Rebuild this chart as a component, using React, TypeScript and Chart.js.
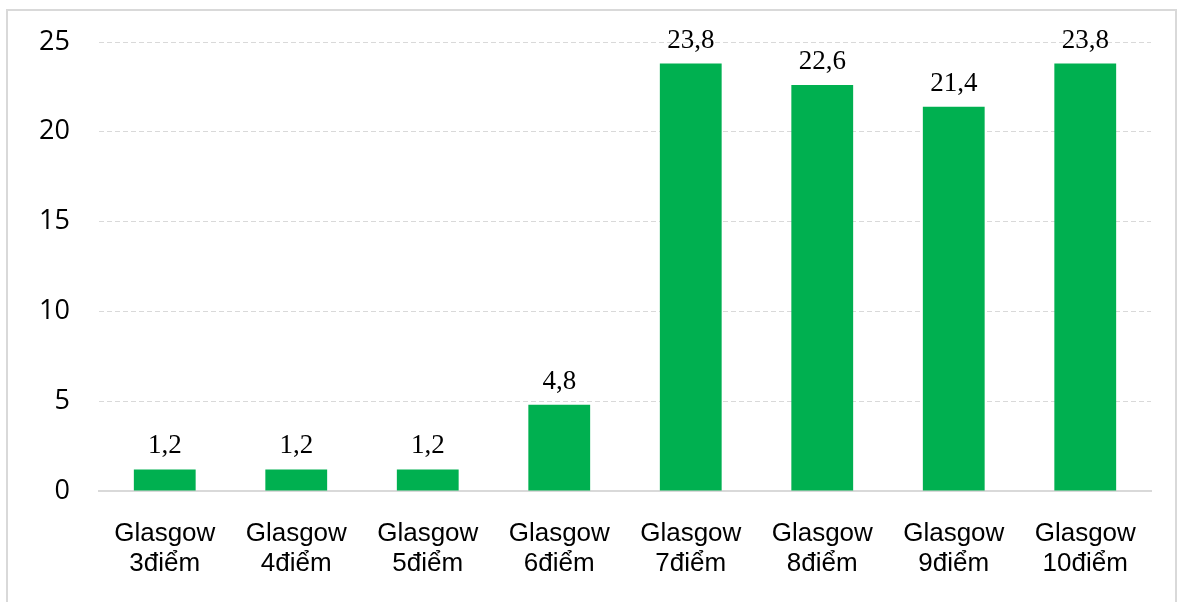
import React, { useEffect, useRef } from "react";
import { Chart, registerables } from "chart.js";

Chart.register(...registerables);

const categoryTop: string[] = ["Glasgow", "Glasgow", "Glasgow", "Glasgow", "Glasgow", "Glasgow", "Glasgow", "Glasgow"];
const categoryBottom: string[] = ["3điểm", "4điểm", "5điểm", "6điểm", "7điểm", "8điểm", "9điểm", "10điểm"];
const values: number[] = [1.2, 1.2, 1.2, 4.8, 23.8, 22.6, 21.4, 23.8];
const yTicks: number[] = [0, 5, 10, 15, 20, 25];

const dataLabelPlugin = {
  id: "dataLabels",
  afterDatasetsDraw(chart: any) {
    const ctx = chart.ctx;
    const meta = chart.getDatasetMeta(0);
    ctx.save();
    ctx.font = '27px "Liberation Serif", "Times New Roman", serif';
    ctx.fillStyle = "#000000";
    ctx.textAlign = "center";
    ctx.textBaseline = "alphabetic";
    meta.data.forEach((el: any, i: number) => {
      const v = chart.data.datasets[0].data[i] as number;
      ctx.fillText(v.toFixed(1).replace(".", ","), el.x, el.y - 16);
    });
    ctx.restore();
  },
};

export default function App() {
  const ref = useRef<HTMLCanvasElement | null>(null);
  useEffect(() => {
    if (!ref.current) return;
    const chart = new Chart(ref.current, {
      type: "bar",
      data: {
        labels: categoryTop.map((t, i) => [t, categoryBottom[i]]),
        datasets: [
          {
            data: values,
            backgroundColor: "#00B050",
            borderWidth: 0,
            barPercentage: 0.47,
            categoryPercentage: 1,
          },
        ],
      },
      options: {
        animation: false,
        responsive: false,
        maintainAspectRatio: false,
        layout: { padding: { left: 20, right: 28, top: 42, bottom: 0 } },
        plugins: { legend: { display: false }, tooltip: { enabled: false } },
        scales: {
          x: {
            grid: { display: false, drawTicks: false },
            border: { display: true, color: "#d9d9d9", width: 2 },
            ticks: {
              color: "#000000",
              padding: 28,
              maxRotation: 0,
              autoSkip: false,
              font: { family: '"Liberation Sans", Arial, sans-serif', size: 26, lineHeight: 1.15 },
            },
            afterFit: (scale: any) => {
              scale.height = 111;
              scale.paddingLeft = 0;
              scale.paddingRight = 0;
            },
          },
          y: {
            min: 0,
            max: 25,
            afterBuildTicks: (scale: any) => {
              scale.ticks = yTicks.map((v) => ({ value: v }));
            },
            grid: { color: "#d9d9d9", lineWidth: 1, drawTicks: false },
            border: { display: false, dash: [5, 3] },
            ticks: {
              color: "#000000",
              padding: 29,
              font: { family: '"Open Sans", sans-serif', size: 27 },
            },
            afterFit: (scale: any) => {
              scale.width = 79;
              scale.paddingTop = 0;
              scale.paddingBottom = 0;
            },
          },
        },
      },
      plugins: [dataLabelPlugin],
    });
    return () => chart.destroy();
  }, []);

  return (
    <div style={{ position: "fixed", left: 0, top: 0, width: 1179, height: 602, background: "#ffffff", overflow: "hidden" }}>
      <div
        style={{
          position: "absolute",
          left: 6,
          top: 9,
          width: 1171,
          height: 600,
          border: "2px solid #d9d9d9",
          boxSizing: "border-box",
        }}
      />
      <canvas ref={ref} width={1179} height={602} style={{ position: "absolute", left: 0, top: 0, width: 1179, height: 602 }} />
    </div>
  );
}
